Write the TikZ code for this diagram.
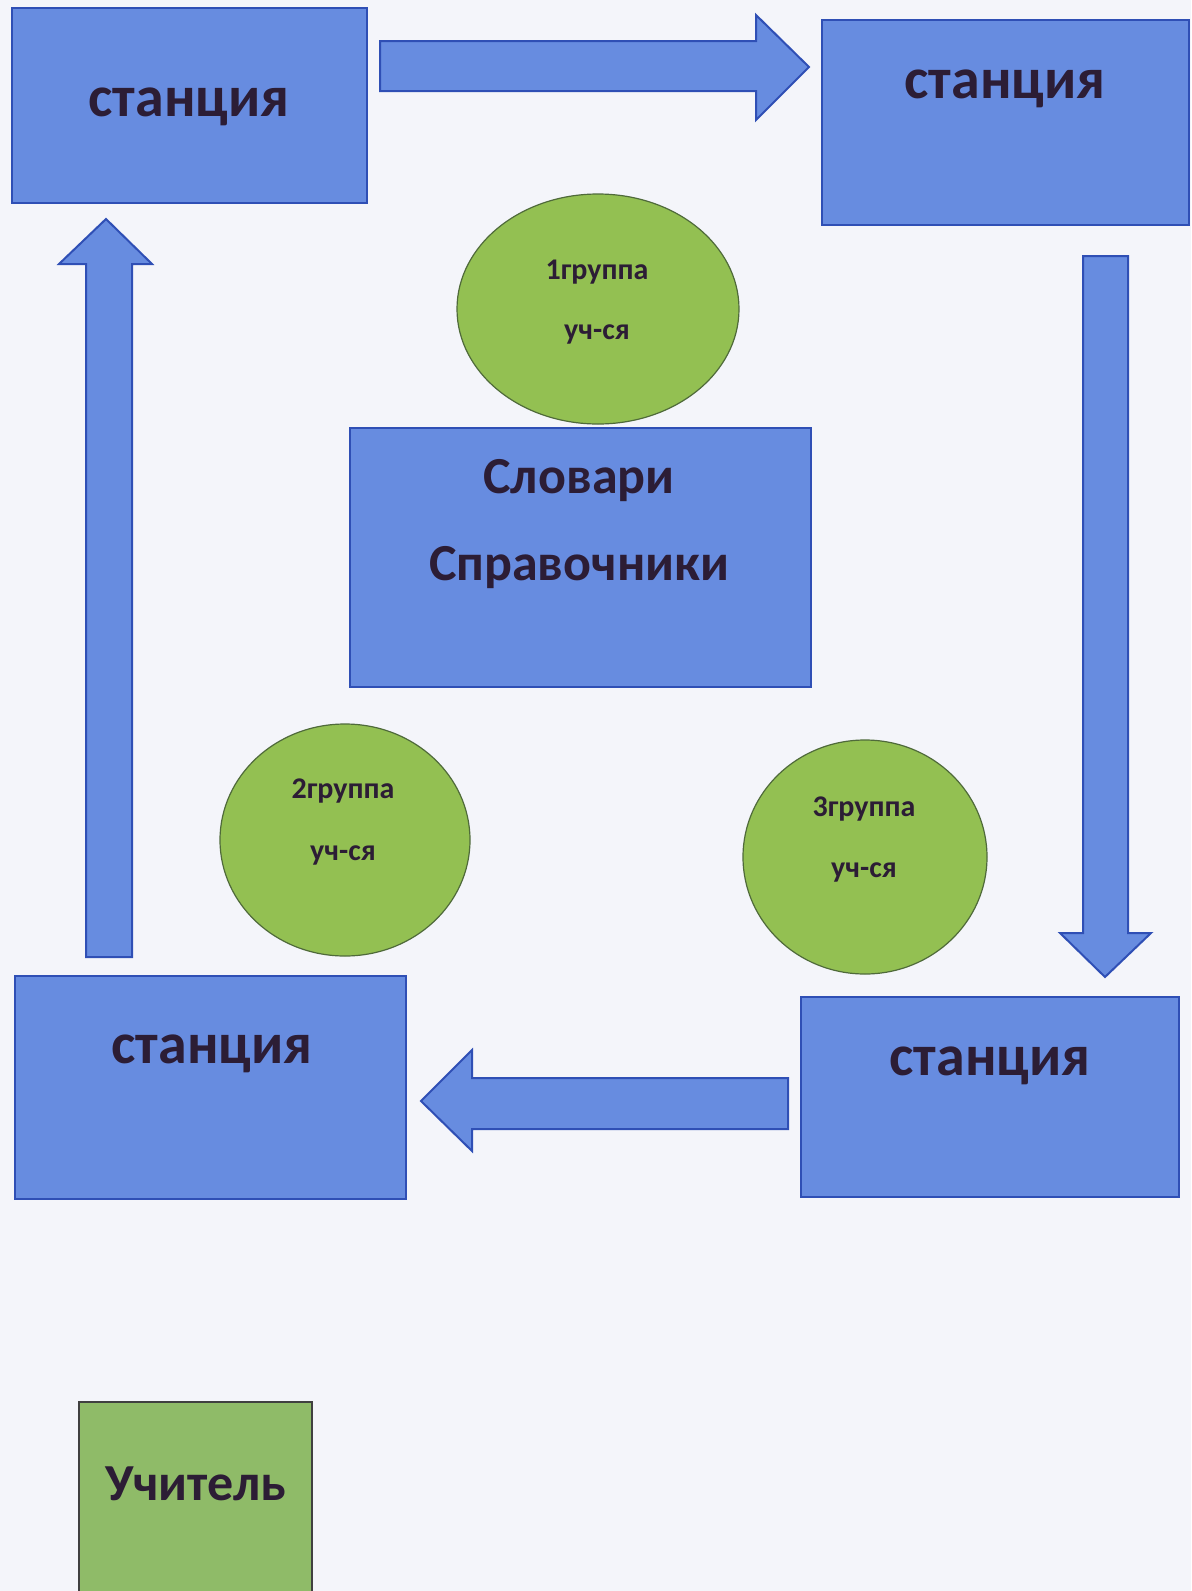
\documentclass[tikz,border=0pt]{standalone}
\usepackage{fontspec}
\setmainfont{Carlito}
\usetikzlibrary{shapes.geometric}
\definecolor{bluefill}{HTML}{678CE0}
\definecolor{blueline}{HTML}{2F4FB5}
\definecolor{grfill}{HTML}{93C052}
\definecolor{grline}{HTML}{4F6A3A}
\definecolor{tfill}{HTML}{8FBB68}
\definecolor{txt}{HTML}{2C1D35}
\definecolor{paper}{HTML}{F4F5FA}
\tikzset{
  box/.style={rectangle, draw=blueline, fill=bluefill, line width=1pt, inner sep=0pt},
  grp/.style={ellipse, draw=grline, fill=grfill, line width=0.6pt, inner sep=0pt},
  tbox/.style={rectangle, draw=black!75, fill=tfill, line width=0.8pt, inner sep=0pt},
  blockarrow/.style={draw=blueline, fill=bluefill, line width=1pt, line join=miter},
  lbl/.style={text=txt, font=\bfseries, inner sep=0pt},
  stlbl/.style={lbl, font=\bfseries\fontsize{29pt}{33pt}\selectfont},
  dlbl/.style={lbl, font=\bfseries\fontsize{26pt}{30pt}\selectfont},
  glbl/.style={lbl, font=\bfseries\fontsize{15pt}{18pt}\selectfont},
}
\begin{document}
\begin{tikzpicture}[x=0.5pt, y=-0.5pt]
\fill[paper] (0,0) rectangle (1191,1591);
\useasboundingbox (0,0) rectangle (1191,1591);
\clip (0,0) rectangle (1191,1591);
% stations
\node[box, minimum width=177.5pt, minimum height=97.5pt] (s1) at (189.5,105.5) {};
\node[box, minimum width=183.5pt, minimum height=102.5pt] (s2) at (1005.5,122.5) {};
\node[box, minimum width=189pt, minimum height=100pt] (s3) at (990,1097) {};
\node[box, minimum width=195.5pt, minimum height=111.5pt] (s4) at (210.5,1087.5) {};
\node[box, minimum width=230.5pt, minimum height=129.5pt] (dict) at (580.5,557.5) {};
\node[tbox, minimum width=116.5pt, minimum height=96pt] (teach) at (195.5,1498) {};
% groups
\node[grp, minimum width=141pt, minimum height=115pt] (g1) at (598,309) {};
\node[grp, minimum width=125pt, minimum height=116pt] (g2) at (345,840) {};
\node[grp, minimum width=122pt, minimum height=117pt] (g3) at (865,857) {};
% block arrows
\draw[blockarrow] (380,41) -- (756,41) -- (756,15) -- (809,67) -- (756,120) -- (756,91) -- (380,91) -- cycle;
\draw[blockarrow] (1083,256) -- (1128,256) -- (1128,933) -- (1151,933) -- (1105,977) -- (1060,933) -- (1083,933) -- cycle;
\draw[blockarrow] (788,1078) -- (472,1078) -- (472,1050) -- (421,1101) -- (472,1151) -- (472,1129) -- (788,1129) -- cycle;
\draw[blockarrow] (86,957) -- (86,264) -- (59,264) -- (106,219) -- (152,264) -- (132,264) -- (132,957) -- cycle;
% labels
\node[stlbl] (t1) at (189,107) {станция};
\node[stlbl] (t2) at (1005,89) {станция};
\node[stlbl] (t3) at (990,1066) {станция};
\node[stlbl] (t4) at (212,1054) {станция};
\node[dlbl] (d1) at (579,481) {Словари};
\node[dlbl] (d2) at (579,568) {Справочники};
\node[lbl, font=\bfseries\fontsize{26pt}{30pt}\selectfont] (tt) at (196,1484) {Учитель};
\node[glbl] (g1a) at (597,272) {1группа};
\node[glbl] (g1b) at (597,334) {уч-ся};
\node[glbl] (g2a) at (343,791) {2группа};
\node[glbl] (g2b) at (343,855) {уч-ся};
\node[glbl] (g3a) at (864,809) {3группа};
\node[glbl] (g3b) at (864,872) {уч-ся};
\end{tikzpicture}
\end{document}
